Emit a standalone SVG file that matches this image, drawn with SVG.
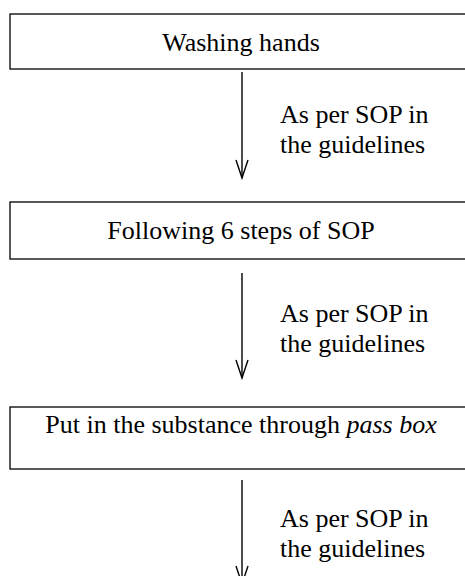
<svg xmlns="http://www.w3.org/2000/svg" width="465" height="576" viewBox="0 0 465 576">
<style>
.box{fill:#fff;stroke:#000;stroke-width:1.3}
text{font-family:'Liberation Serif','Times New Roman',Times,serif;font-size:26px;fill:#000}
.c{text-anchor:middle}
.ln{stroke:#000;stroke-width:1.4;fill:none}
</style>
<defs>
<marker id="v" markerUnits="userSpaceOnUse" markerWidth="22" markerHeight="16" refX="19" refY="8" orient="auto" viewBox="0 0 22 16">
<path d="M1 2 L19 8 L1 14" fill="none" stroke="#000" stroke-width="1.4"/>
</marker>
</defs>
<rect width="465" height="576" fill="#fff"/>
<g id="n1"><rect class="box" x="10" y="14" width="462" height="55"/><text class="c" x="241" y="51">Washing hands</text></g>
<g id="n2"><rect class="box" x="10" y="202" width="462" height="57"/><text class="c" x="241" y="239">Following 6 steps of SOP</text></g>
<g id="n3"><rect class="box" x="10" y="407" width="462" height="62"/><text class="c" x="241" y="433">Put in the substance through <tspan font-style="italic">pass box</tspan></text></g>
<g id="connectors">
<line class="ln" x1="242" y1="72" x2="242" y2="178" marker-end="url(#v)"/>
<line class="ln" x1="242" y1="273" x2="242" y2="378" marker-end="url(#v)"/>
<line class="ln" x1="242" y1="480" x2="242" y2="584" marker-end="url(#v)"/>
<text x="280" y="123">As per SOP in</text>
<text x="280" y="153">the guidelines</text>
<text x="280" y="322">As per SOP in</text>
<text x="280" y="352">the guidelines</text>
<text x="280" y="527">As per SOP in</text>
<text x="280" y="557">the guidelines</text>
</g>
</svg>
